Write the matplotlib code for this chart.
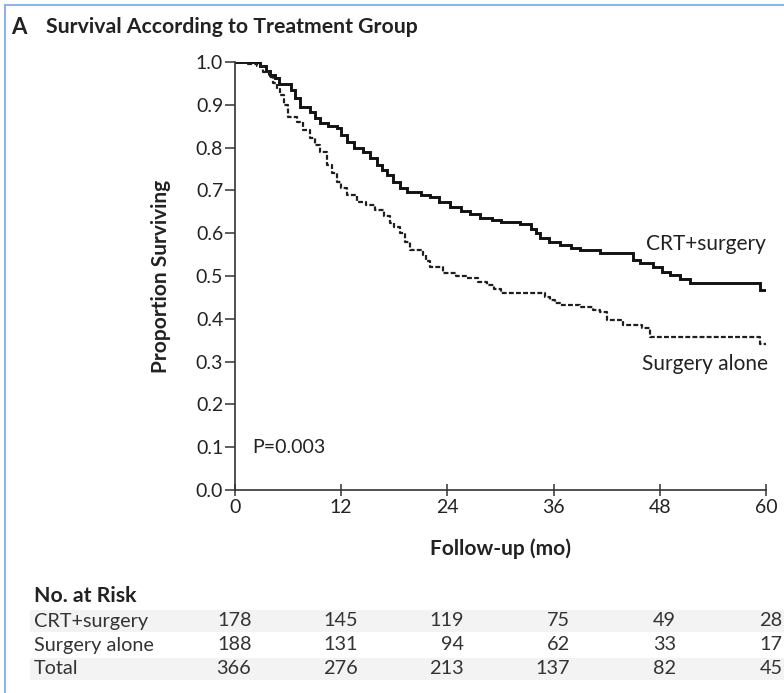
import matplotlib
matplotlib.use("Agg")
import matplotlib.pyplot as plt
from matplotlib.lines import Line2D
from matplotlib.patches import Rectangle
import matplotlib.transforms as mtransforms

plt.rcParams['font.family'] = ['Lato', 'DejaVu Sans']

# Kaplan-Meier step data (months, proportion surviving after each step)
crt_time = [0, 2.8, 3.5, 4.0, 4.5, 5.0, 6.3, 6.8, 7.3, 8.5, 9.0, 9.6, 10.5, 11.5,
            12.0, 12.7, 13.5, 14.5, 15.2, 16.0, 16.6, 17.2, 17.9, 18.6, 19.4,
            21.0, 22.0, 23.0, 24.3, 25.5, 26.5, 27.7, 29.0, 30.0, 32.2, 33.5,
            34.0, 34.5, 35.5, 36.7, 38.0, 39.0, 41.2, 45.0, 45.8, 47.2, 48.2,
            49.2, 50.3, 51.4, 59.3, 60.0]
crt_surv = [1.0, 0.99, 0.98, 0.97, 0.963, 0.949, 0.935, 0.915, 0.895, 0.883, 0.87,
            0.857, 0.85, 0.846, 0.83, 0.813, 0.80, 0.79, 0.775, 0.759, 0.748,
            0.736, 0.72, 0.706, 0.696, 0.69, 0.685, 0.672, 0.661, 0.652, 0.645,
            0.636, 0.63, 0.626, 0.622, 0.61, 0.60, 0.589, 0.58, 0.572, 0.566,
            0.561, 0.554, 0.537, 0.53, 0.521, 0.51, 0.502, 0.493, 0.484, 0.467,
            0.467]

surg_time = [0, 1.5, 2.5, 3.2, 3.8, 4.3, 4.7, 5.1, 5.5, 6.0, 7.0, 7.7, 8.5, 9.0,
             9.6, 10.4, 11.0, 11.5, 12.0, 12.7, 13.8, 14.8, 15.8, 16.8, 17.5,
             18.0, 18.6, 19.2, 19.8, 21.2, 21.6, 22.0, 23.5, 25.0, 26.2, 27.5,
             28.5, 29.3, 30.0, 35.0, 35.6, 36.2, 36.7, 39.0, 40.5, 41.2, 42.0,
             43.8, 46.0, 46.9, 59.3, 60.0]
surg_surv = [1.0, 0.995, 0.99, 0.977, 0.965, 0.951, 0.937, 0.923, 0.90, 0.871,
             0.86, 0.84, 0.822, 0.806, 0.79, 0.759, 0.74, 0.72, 0.705, 0.689,
             0.673, 0.665, 0.654, 0.64, 0.625, 0.615, 0.60, 0.58, 0.561, 0.549,
             0.535, 0.521, 0.507, 0.50, 0.495, 0.485, 0.479, 0.47, 0.46, 0.452,
             0.444, 0.438, 0.432, 0.428, 0.42, 0.416, 0.397, 0.386, 0.379,
             0.358, 0.341, 0.341]

x_ticks = [0, 12, 24, 36, 48, 60]
y_ticks = [0.0, 0.1, 0.2, 0.3, 0.4, 0.5, 0.6, 0.7, 0.8, 0.9, 1.0]

risk_groups = ['CRT+surgery', 'Surgery alone', 'Total']
risk_crt = [178, 145, 119, 75, 49, 28]
risk_surg = [188, 131, 94, 62, 33, 17]
risk_total = [366, 276, 213, 137, 82, 45]

W, H = 784, 693
fig = plt.figure(figsize=(W / 100, H / 100), dpi=100)
fig.patch.set_facecolor('white')


def fx(px):
    return px / W


def fy(py):
    return 1 - py / H


TXT = '#222222'
TICK_FS = 14
LABEL_FS = 15

ax = fig.add_axes([fx(235), fy(490), fx(766) - fx(235), fy(62) - fy(490)])
ax.step(crt_time, crt_surv, where='post', color='#111111', lw=2.1,
        solid_joinstyle='miter')
ax.step(surg_time, surg_surv, where='post', color='#1e1e1e', lw=1.6,
        linestyle=(0, (2.2, 1.0)))

ax.set_xlim(0, 60)
ax.set_ylim(0, 1.0)
ax.set_xticks(x_ticks)
ax.set_yticks(y_ticks)
ax.set_yticklabels([f'{v:.1f}' for v in y_ticks])
for s in ['top', 'right']:
    ax.spines[s].set_visible(False)
for s in ['left', 'bottom']:
    ax.spines[s].set_color('#333333')
    ax.spines[s].set_linewidth(1.2)
ax.tick_params(axis='y', direction='out', length=7, width=1.1, color='#333333',
               labelsize=TICK_FS, labelcolor=TXT, pad=1.5)
ax.tick_params(axis='x', direction='inout', length=9, width=1.1, color='#333333',
               labelsize=TICK_FS, labelcolor=TXT, pad=2)

ax.set_ylabel('Proportion Surviving', fontsize=LABEL_FS, fontweight='bold',
              color=TXT, labelpad=18)
ax.set_xlabel('Follow-up (mo)', fontsize=LABEL_FS, fontweight='bold', color=TXT,
              labelpad=16)

ax.text(60.0, 0.575, 'CRT+surgery', ha='right', va='center', fontsize=15,
        color=TXT)
ax.text(60.2, 0.295, 'Surgery alone', ha='right', va='center', fontsize=15,
        color=TXT)
ax.text(2.0, 0.1, 'P=0.003', ha='left', va='center', fontsize=TICK_FS, color=TXT)

# Panel title
fig.text(fx(11), fy(27), 'A', fontsize=16, fontweight='bold', color=TXT,
         ha='left', va='center')
fig.text(fx(46), fy(27), 'Survival According to Treatment Group', fontsize=15.3,
         fontweight='bold', color=TXT, ha='left', va='center')

# Number-at-risk table
fig.text(fx(34), fy(596), 'No. at Risk', fontsize=15.3, fontweight='bold',
         color=TXT, ha='left', va='center')
row_y = [621, 645, 669]
for ry in [row_y[0], row_y[2]]:
    fig.add_artist(Rectangle((fx(30), fy(ry + 11)), fx(784) - fx(30), 22 / H,
                             transform=fig.transFigure, facecolor='#f3f3f3',
                             edgecolor='none', zorder=-5))
blend = mtransforms.blended_transform_factory(ax.transData, fig.transFigure)
for name, counts, ry in zip(risk_groups, [risk_crt, risk_surg, risk_total], row_y):
    fig.text(fx(34), fy(ry), name, fontsize=14.3, color='#333333', ha='left',
             va='center', zorder=5)
    for t, n in zip(x_ticks, counts):
        ax.text(t + 1.85, fy(ry), str(n), transform=blend, fontsize=14.3,
                color='#333333', ha='right', va='center', clip_on=False,
                zorder=5)

# Light blue frame on the top and left edges
fig.add_artist(Line2D([fx(5), fx(5)], [fy(5), fy(693)], transform=fig.transFigure,
                      color='#8cb4e6', lw=1.5))
fig.add_artist(Line2D([fx(5), fx(784)], [fy(5), fy(5)], transform=fig.transFigure,
                      color='#8cb4e6', lw=1.5))

fig.savefig('out.png', dpi=100)
